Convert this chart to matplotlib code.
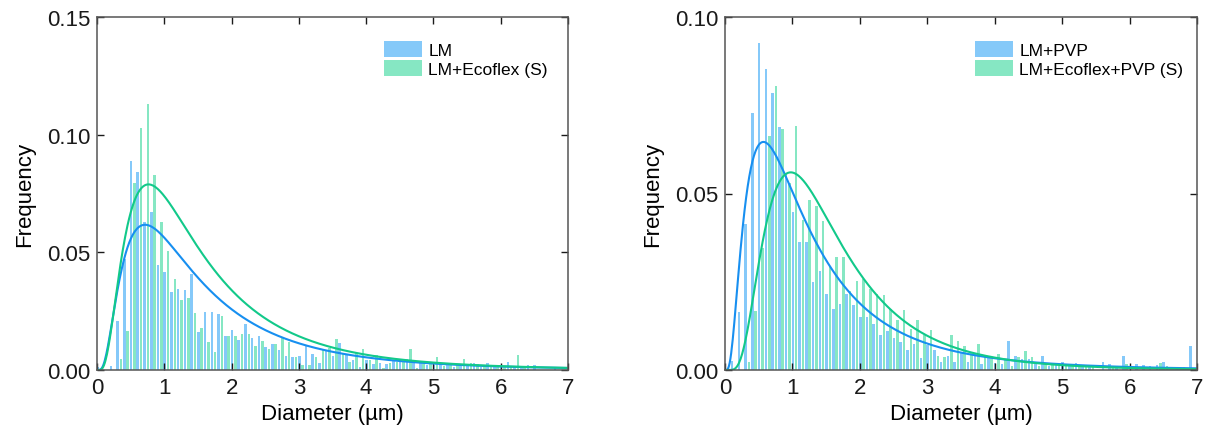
import numpy as np
import matplotlib
matplotlib.use('Agg')
from matplotlib import pyplot as plt

plt.rcParams['font.family'] = ['Liberation Sans', 'DejaVu Sans']

# histogram frequencies, one value per 0.1 um bin starting at 0
left_lm = [0.0014, 0, 0.0017, 0.021, 0.047, 0.0886, 0.0843, 0.063, 0.067, 0.0446,
           0.0417, 0.033, 0.0346, 0.034, 0.041, 0.016, 0.0246, 0.0246, 0.0236, 0.0143,
           0.017, 0.0129, 0.0196, 0.0134, 0.0143, 0.0099, 0.0109, 0.0085, 0.0059, 0.0055,
           0.0059, 0.0102, 0.0066, 0.003, 0.008, 0.0059, 0.0116, 0.0066, 0.0042, 0.0014,
           0.0041, 0.0024, 0.003, 0.0024, 0.0038, 0.0034, 0.0048, 0.0028, 0.0028, 0.002,
           0.002, 0.0024, 0.0028, 0.0014, 0.0024, 0.0017, 0.003, 0.0014, 0.003, 0.0014,
           0.0014, 0.0035, 0.0014, 0.0017, 0.002, 0.002, 0, 0, 0.0014, 0]
left_eco = [0, 0, 0, 0.0046, 0.0164, 0.0796, 0.103, 0.113, 0.083, 0.063,
            0.0507, 0.0386, 0.0296, 0.0306, 0.0243, 0.0177, 0.0121, 0.0077, 0.023, 0.0143,
            0.0143, 0.0153, 0.0153, 0.01, 0.0124, 0.0088, 0.0109, 0.0137, 0.012, 0.0055,
            0.002, 0.002, 0.0055, 0.0085, 0.0095, 0.013, 0.0066, 0.0034, 0.0073, 0.0088,
            0.0042, 0.0062, 0.001, 0.0028, 0.0034, 0.0038, 0.0088, 0.001, 0.0028, 0.0024,
            0.0055, 0.0017, 0.0024, 0.0024, 0.0045, 0.003, 0.0024, 0.0017, 0.0014, 0.0017,
            0.0017, 0.0017, 0.0064, 0.0014, 0, 0, 0, 0, 0, 0]
right_pvp = [0, 0.0026, 0.0165, 0.0414, 0.0728, 0.0926, 0.0852, 0.0785, 0.0687, 0.0555,
             0.0447, 0.0363, 0.0363, 0.0249, 0.028, 0.0215, 0.0174, 0.0186, 0.0215, 0.0184,
             0.015, 0.015, 0.0131, 0.01, 0.011, 0.009, 0.008, 0.0057, 0.0074, 0.0033,
             0.0072, 0.0057, 0.0024, 0.004, 0.0023, 0.0052, 0.0023, 0.0045, 0.0016, 0.0038,
             0.0021, 0.0016, 0.0081, 0.004, 0.003, 0.003, 0.0016, 0.004, 0.0011, 0.0021,
             0.0023, 0.0016, 0.0019, 0.0011, 0.0011, 0, 0.0023, 0.0016, 0.0011, 0.004,
             0, 0.0016, 0.0014, 0.0011, 0.0014, 0.0024, 0, 0.0009, 0.0009, 0.0067]
right_eco = [0, 0, 0, 0.0023, 0.0168, 0.0347, 0.0663, 0.0804, 0.0684, 0.053,
             0.069, 0.0425, 0.0483, 0.0464, 0.0421, 0.0294, 0.032, 0.032, 0.0224, 0.0253,
             0.0258, 0.023, 0.0215, 0.0213, 0.0174, 0.0141, 0.0169, 0.0117, 0.0141, 0.010,
             0.0112, 0.004, 0.0037, 0.010, 0.0083, 0.0067, 0.005, 0.0074, 0.004, 0.0035,
             0.0045, 0.0029, 0.0011, 0.0038, 0.0055, 0.0038, 0.0011, 0.0016, 0.0016, 0.0011,
             0.0011, 0.0011, 0.0011, 0.0009, 0.0009, 0, 0, 0.0011, 0, 0.0016,
             0, 0, 0, 0, 0.0021, 0.0011, 0, 0, 0, 0]

# log-normal fit parameters (xc, w, A)
fit_left_lm = (1.312, 0.78, 0.1168)
fit_left_eco = (1.323, 0.74, 0.1472)
fit_right_pvp = (1.081, 0.80, 0.1017)
fit_right_eco = (1.3975, 0.60, 0.0983)

labels_left = ['LM', 'LM+Ecoflex (S)']
labels_right = ['LM+PVP', 'LM+Ecoflex+PVP (S)']

BAR_BLUE = '#85c9f9'
BAR_GREEN = '#86e7c3'
LINE_BLUE = '#178ff0'
LINE_GREEN = '#12c98a'


def lognorm(x, xc, w, a):
    return a / (np.sqrt(2 * np.pi) * w * x) * np.exp(-np.log(x / xc) ** 2 / (2 * w ** 2))


def draw_panel(ax, blue, green, fit_b, fit_g, labels, ymax, leg_x):
    bins = np.arange(len(blue)) * 0.1
    ax.bar(bins + 0.006, blue, width=0.038, color=BAR_BLUE, label=labels[0])
    ax.bar(bins + 0.056, green, width=0.038, color=BAR_GREEN, label=labels[1])
    xs = np.linspace(0.01, 7, 600)
    ax.plot(xs, lognorm(xs, *fit_b), color=LINE_BLUE, lw=1.5)
    ax.plot(xs, lognorm(xs, *fit_g), color=LINE_GREEN, lw=1.5)
    ax.set_xlim(0, 7)
    ax.set_ylim(0, ymax)
    ax.set_xticks(range(8))
    ax.set_yticks(np.arange(0, ymax + 0.001, 0.05))
    ax.yaxis.set_major_formatter(matplotlib.ticker.FormatStrFormatter('%.2f'))
    ax.tick_params(direction='in', top=True, right=True, length=5, width=1,
                   labelsize=16, colors='#1a1a1a', pad=5)
    for s in ax.spines.values():
        s.set_color('#555555')
        s.set_linewidth(1.1)
    ax.set_xlabel('Diameter (µm)', fontsize=16, labelpad=4)
    ax.set_ylabel('Frequency', fontsize=16, labelpad=8)
    ax.legend(loc='upper left', bbox_to_anchor=(leg_x, 0.952), frameon=False,
              fontsize=12.5, handlelength=2.2, handleheight=1.05,
              handletextpad=0.35, labelspacing=0.12, borderaxespad=0)


fig = plt.figure(figsize=(12.08, 4.35), dpi=100)
ax1 = fig.add_axes([97 / 1208, 64 / 435, 471 / 1208, 353 / 435])
ax2 = fig.add_axes([725 / 1208, 64 / 435, 472 / 1208, 353 / 435])

draw_panel(ax1, left_lm, left_eco, fit_left_lm, fit_left_eco, labels_left, 0.15, 0.595)
draw_panel(ax2, right_pvp, right_eco, fit_right_pvp, fit_right_eco, labels_right, 0.10, 0.515)

fig.savefig('out.png', dpi=100)
